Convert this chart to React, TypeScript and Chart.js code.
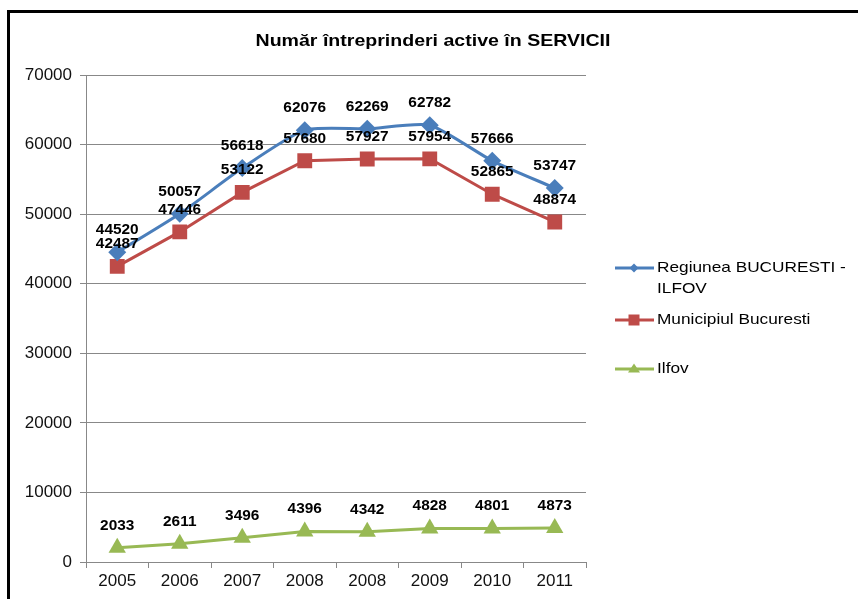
import React, { useEffect, useRef } from "react";
import { Chart, registerables } from "chart.js";

Chart.register(...registerables);

const TITLE = "Număr întreprinderi active în SERVICII";
const categories = ["2005", "2006", "2007", "2008", "2008", "2009", "2010", "2011"];
const regiune = [44520, 50057, 56618, 62076, 62269, 62782, 57666, 53747];
const municipiu = [42487, 47446, 53122, 57680, 57927, 57954, 52865, 48874];
const ilfov = [2033, 2611, 3496, 4396, 4342, 4828, 4801, 4873];
const seriesNames = ["Regiunea BUCURESTI - ILFOV", "Municipiul Bucuresti", "Ilfov"];
const legendLines = [["Regiunea BUCURESTI -", "ILFOV"], ["Municipiul Bucuresti"], ["Ilfov"]];

const BLUE = "#4A7EBB";
const RED = "#BE4B48";
const GREEN = "#98B954";
const FONT = "'Liberation Sans', Arial, sans-serif";

function stretchText(ctx: CanvasRenderingContext2D, text: string, x: number, y: number, sx: number, align: "left" | "center") {
  ctx.save();
  ctx.translate(x, y);
  ctx.scale(sx, 1);
  ctx.textAlign = align;
  ctx.fillText(text, 0, 0);
  ctx.restore();
}

function legendMarker(ctx: CanvasRenderingContext2D, style: string, x: number, y: number) {
  ctx.beginPath();
  if (style === "rectRot") {
    const s = 4.5;
    ctx.moveTo(x - s, y);
    ctx.lineTo(x, y - s);
    ctx.lineTo(x + s, y);
    ctx.lineTo(x, y + s);
  } else if (style === "rect") {
    const s = 5.5;
    ctx.rect(x - s, y - s, 2 * s, 2 * s);
  } else {
    const s = 6;
    ctx.moveTo(x - s, y + s * 0.6);
    ctx.lineTo(x, y - s * 0.9);
    ctx.lineTo(x + s, y + s * 0.6);
  }
  ctx.closePath();
  ctx.fill();
}

const customPlugin = {
  id: "custom",
  beforeDraw(chart: any) {
    const ctx = chart.ctx as CanvasRenderingContext2D;
    ctx.save();
    ctx.fillStyle = "#fff";
    ctx.fillRect(0, 0, chart.width, chart.height);
    ctx.fillStyle = "#000";
    ctx.fillRect(7, 10, chart.width - 7, 3);
    ctx.fillRect(7, 10, 3, chart.height - 10);
    ctx.restore();
  },
  afterDatasetsDraw(chart: any) {
    const ctx = chart.ctx as CanvasRenderingContext2D;
    ctx.save();
    ctx.fillStyle = "#000";
    ctx.textBaseline = "middle";
    ctx.font = `bold 14px ${FONT}`;
    chart.data.datasets.forEach((ds: any, i: number) => {
      const meta = chart.getDatasetMeta(i);
      meta.data.forEach((el: any, j: number) => {
        stretchText(ctx, String(ds.data[j]), el.x, el.y - 22, 1.1, "center");
      });
    });
    ctx.restore();
  },
  afterDraw(chart: any) {
    const ctx = chart.ctx as CanvasRenderingContext2D;
    ctx.save();
    ctx.fillStyle = "#000";
    ctx.textBaseline = "middle";
    ctx.font = `bold 17px ${FONT}`;
    stretchText(ctx, TITLE, 433, 41, 1.15, "center");
    const ys = [268, 320, 369];
    chart.data.datasets.forEach((ds: any, i: number) => {
      const y = ys[i];
      ctx.strokeStyle = ds.borderColor;
      ctx.lineWidth = 3;
      ctx.beginPath();
      ctx.moveTo(615, y);
      ctx.lineTo(654, y);
      ctx.stroke();
      ctx.fillStyle = ds.backgroundColor;
      legendMarker(ctx, ds.pointStyle, 634, y);
      ctx.fillStyle = "#000";
      ctx.font = `15px ${FONT}`;
      legendLines[i].forEach((t, k) => {
        stretchText(ctx, t, 657, y + k * 21, 1.15, "left");
      });
    });
    ctx.restore();
  },
};

export default function App() {
  const ref = useRef<HTMLCanvasElement>(null);
  useEffect(() => {
    if (!ref.current) return;
    const chart = new Chart(ref.current, {
      type: "line",
      data: {
        labels: categories,
        datasets: [
          {
            label: seriesNames[0],
            data: regiune,
            borderColor: BLUE,
            backgroundColor: BLUE,
            borderWidth: 3,
            tension: 0.2,
            pointStyle: "rectRot",
            pointRadius: 9,
            pointBorderWidth: 0,
          },
          {
            label: seriesNames[1],
            data: municipiu,
            borderColor: RED,
            backgroundColor: RED,
            borderWidth: 3,
            tension: 0,
            pointStyle: "rect",
            pointRadius: 10.5,
            pointBorderWidth: 0,
          },
          {
            label: seriesNames[2],
            data: ilfov,
            borderColor: GREEN,
            backgroundColor: GREEN,
            borderWidth: 3,
            tension: 0,
            pointStyle: "triangle",
            pointRadius: 10,
            pointBorderWidth: 0,
          },
        ],
      },
      options: {
        animation: false,
        responsive: false,
        devicePixelRatio: 1,
        layout: { padding: { left: 0, right: 272, top: 75, bottom: 0 } },
        plugins: {
          legend: { display: false },
          title: { display: false },
          tooltip: { enabled: false },
        },
        scales: {
          x: {
            offset: true,
            grid: { drawOnChartArea: false, drawTicks: true, tickLength: 6, color: "#888", offset: true },
            border: { display: true, color: "#888", width: 1 },
            ticks: { color: "#111", font: { family: FONT, size: 17 }, padding: 3, maxRotation: 0, autoSkip: false },
            afterFit: (s: any) => { s.height = 37; },
          },
          y: {
            min: 0,
            max: 70000,
            ticks: {
              stepSize: 10000,
              color: "#111",
              font: { family: FONT, size: 17 },
              padding: 8,
              callback: (v: any) => String(v),
            },
            grid: { color: "#888", tickLength: 6, drawTicks: true },
            border: { display: true, color: "#888", width: 1 },
            afterFit: (s: any) => { s.width = 86; },
          },
        },
      },
      plugins: [customPlugin],
    });
    return () => chart.destroy();
  }, []);
  return (
    <div style={{ position: "absolute", left: 0, top: 0, width: 858, height: 599 }}>
      <canvas ref={ref} width={858} height={599} style={{ width: 858, height: 599, display: "block" }} />
    </div>
  );
}
